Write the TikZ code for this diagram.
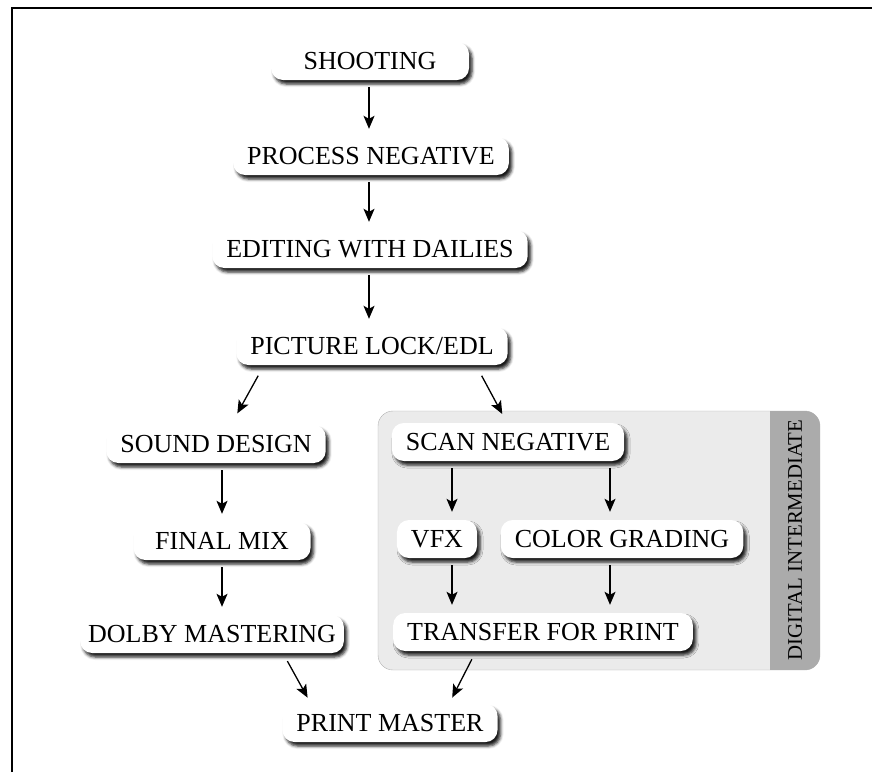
\documentclass[tikz,border=0pt]{standalone}
\usepackage{fontspec}
\setmainfont{Liberation Serif}
\usetikzlibrary{arrows.meta,shadows.blur}

\tikzset{
  stage/.style={fill=white, rounded corners=12pt, minimum height=38pt, inner xsep=14pt,
    font=\fontsize{26}{30}\selectfont,
    blur shadow={shadow xshift=3pt, shadow yshift=-4pt, shadow blur radius=3pt, shadow opacity=90}},
  flow/.style={-{Stealth[length=13pt,width=11pt,inset=3pt]}, line width=1.3pt, shorten <=7pt, shorten >=8pt},
}

\begin{document}
\begin{tikzpicture}[x=1pt, y=-1pt]
\useasboundingbox (0,0) rectangle (872,772);
\draw[line width=2pt] (12,772) -- (12,8) -- (872,8);
% digital intermediate panel
\draw[fill=black!8, draw=black!30, rounded corners=15pt] (378,411) rectangle (820,670);
\begin{scope}
\clip[rounded corners=15pt] (378,411) rectangle (820,670);
\fill[black!33] (770,411) rectangle (820,670);
\end{scope}
\node[rotate=90, font=\fontsize{20.8}{24}\selectfont] (dilabel) at (795,540) {DIGITAL INTERMEDIATE};
% main line
\node[stage, minimum width=198pt] (shoot) at (370,61) {SHOOTING};
\node[stage] (process) at (371,156) {PROCESS NEGATIVE};
\node[stage] (editing) at (370,249) {EDITING WITH DAILIES};
\node[stage] (lock) at (372,346) {PICTURE LOCK/EDL};
% sound
\node[stage] (sound) at (216,444) {SOUND DESIGN};
\node[stage, minimum width=177pt] (final) at (222,541) {FINAL MIX};
\node[stage, inner xsep=8pt] (dolby) at (212,634) {DOLBY MASTERING};
% picture
\node[stage] (scan) at (508,442) {SCAN NEGATIVE};
\node[stage] (vfx) at (437,539) {VFX};
\node[stage] (color) at (622,539) {COLOR GRADING};
\node[stage] (transfer) at (543,632) {TRANSFER FOR PRINT};
\node[stage] (print) at (390,723) {PRINT MASTER};
\coordinate (maincol) at (369,0);
\coordinate (dicol1) at (452,0);
\coordinate (dicol2) at (610,0);
% arrows
\draw[flow] (maincol |- shoot.south) -- (maincol |- process.north);
\draw[flow] (maincol |- process.south) -- (maincol |- editing.north);
\draw[flow] (maincol |- editing.south) -- (maincol |- lock.north);
\draw[flow, shorten <=12pt, shorten >=13pt] ([xshift=-108pt]lock.south) -- ([xshift=15pt]sound.north);
\draw[flow, shorten <=12pt, shorten >=10pt] ([xshift=104pt]lock.south) -- ([xshift=-1pt]scan.north);
\draw[flow] (final.north |- sound.south) -- (final.north);
\draw[flow] (final.south) -- (final.south |- dolby.north);
\draw[flow] (dicol1 |- scan.south) -- (dicol1 |- vfx.north);
\draw[flow] (dicol2 |- scan.south) -- (dicol2 |- color.north);
\draw[flow] (dicol1 |- vfx.south) -- (dicol1 |- transfer.north);
\draw[flow] (dicol2 |- color.south) -- (dicol2 |- transfer.north);
\draw[flow, shorten <=9pt, shorten >=7pt] ([xshift=71pt]dolby.south) -- ([xshift=-79pt]print.north);
\draw[flow, shorten <=9pt, shorten >=7pt] ([xshift=-67pt]transfer.south) -- ([xshift=59pt]print.north);
\end{tikzpicture}
\end{document}
